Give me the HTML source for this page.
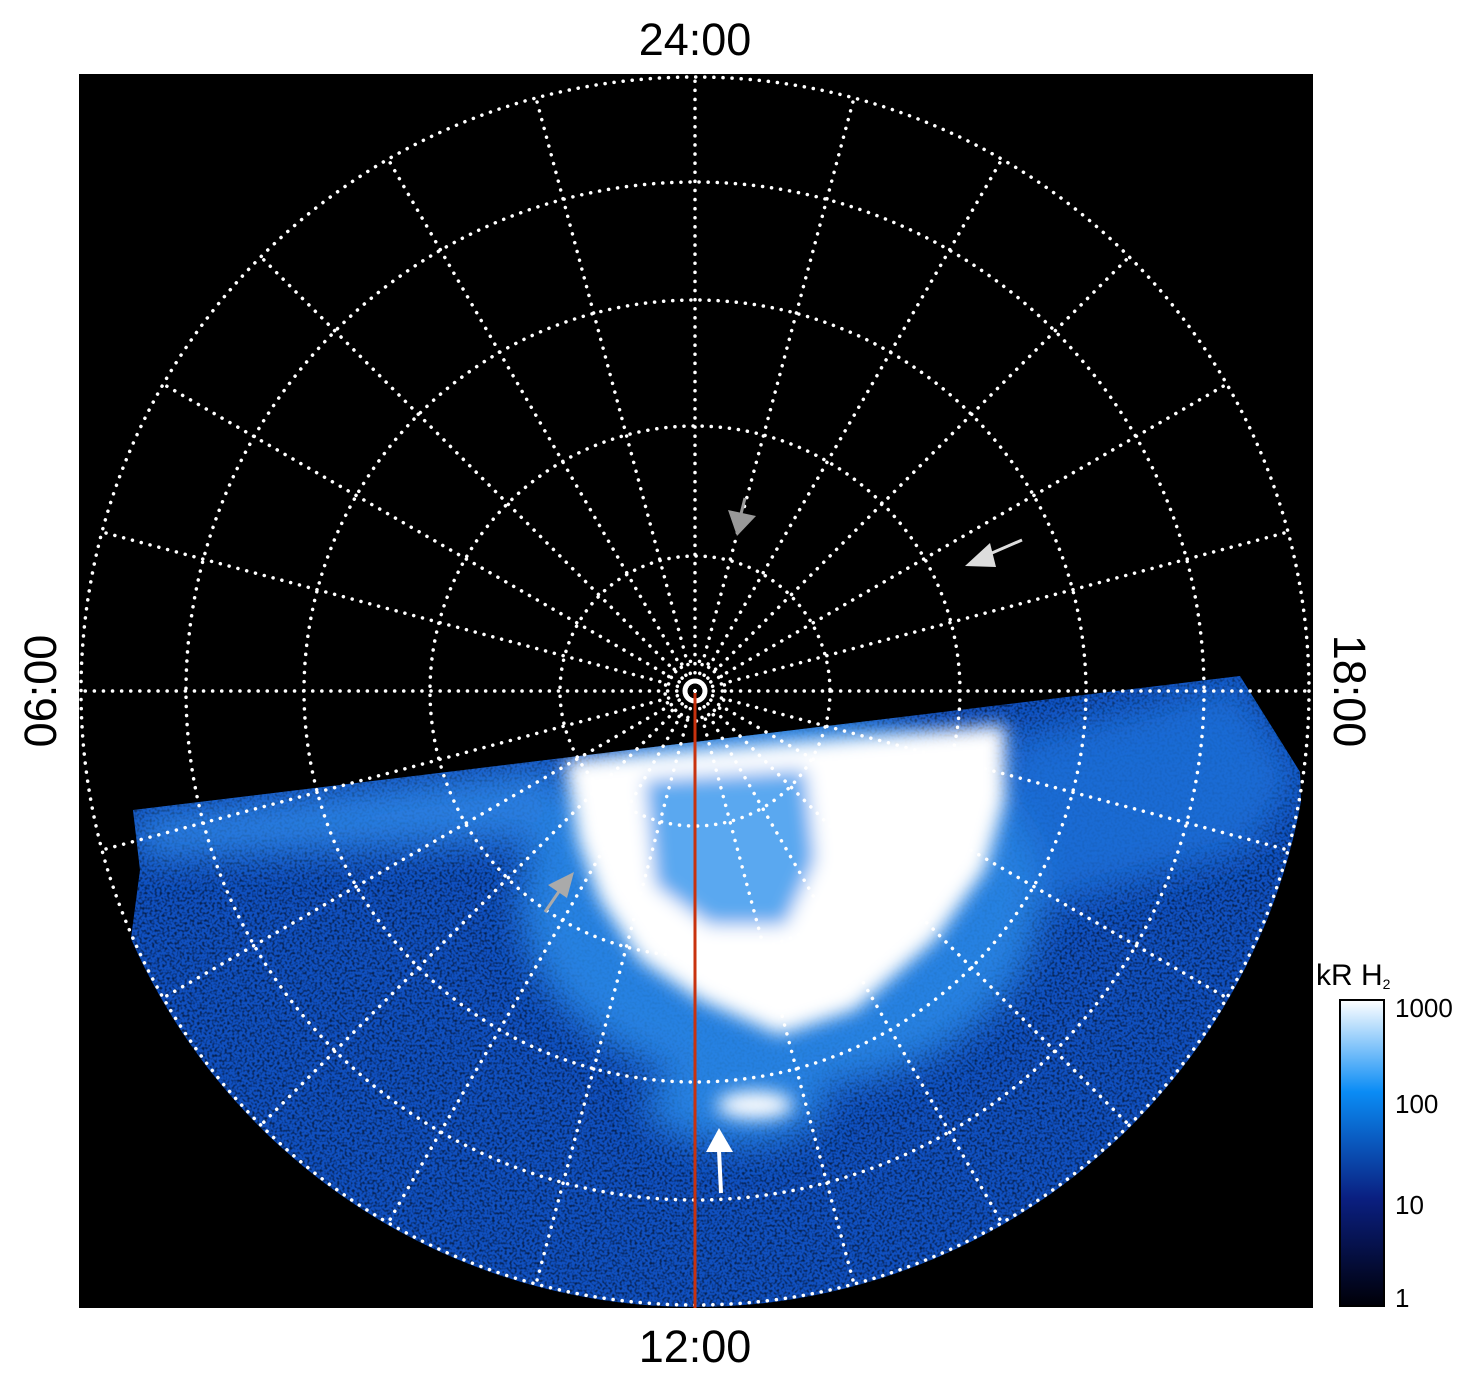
<!DOCTYPE html>
<html><head><meta charset="utf-8"><style>
html,body{margin:0;padding:0;background:#fff;}
svg{display:block;}
text{font-family:"Liberation Sans",sans-serif;}
</style></head><body>
<svg width="1480" height="1384" viewBox="0 0 1480 1384" xmlns="http://www.w3.org/2000/svg">
<defs>
<clipPath id="cp">
<circle cx="695" cy="691" r="616"/>
</clipPath>
<clipPath id="reg">
<polygon points="133,810 1240,676 1300,772 1320,1400 70,1400 140,870"/>
</clipPath>
<filter id="bl" x="-20%" y="-20%" width="140%" height="140%"><feGaussianBlur stdDeviation="18"/></filter>
<filter id="bl2" x="-20%" y="-20%" width="140%" height="140%"><feGaussianBlur stdDeviation="9"/></filter>
<filter id="nz" x="0" y="0" width="100%" height="100%">
<feTurbulence type="fractalNoise" baseFrequency="0.4" numOctaves="1" seed="3"/>
<feColorMatrix values="0 0 0 0 0  0 0 0 0 0  0 0 0 0 0  0 0 0 -3 1.7"/>
</filter>
<linearGradient id="cb" x1="0" y1="0" x2="0" y2="1">
<stop offset="0" stop-color="#ffffff"/>
<stop offset="0.3" stop-color="#0a8cf5"/>
<stop offset="0.65" stop-color="#0a1f80"/>
<stop offset="1" stop-color="#000008"/>
</linearGradient>
</defs>
<rect x="79" y="74" width="1234" height="1234" fill="#000"/>
<g clip-path="url(#cp)">
<g clip-path="url(#reg)">
<rect x="70" y="660" width="1260" height="740" fill="#1050c0"/>
<rect x="70" y="660" width="1260" height="740" filter="url(#nz)" opacity="0.6"/>
<g filter="url(#bl)" opacity="0.85">
<polygon points="133,815 560,765 560,840 140,860" fill="#2f86e6"/>
<polygon points="1000,740 1240,680 1300,780 1250,850 1000,920" fill="#1f70d8"/>
<ellipse cx="780" cy="900" rx="260" ry="190" fill="#2a8ae8"/>
<ellipse cx="735" cy="1105" rx="90" ry="40" fill="#2a8ae8"/>
</g>
<g filter="url(#bl2)">
<path d="M565,760 L1005,725 L1005,800 L985,870 L935,940 L855,1010 L780,1035 L700,1000 L640,960 L600,900 L578,840 Z" fill="#fff"/>
<path d="M645,780 L805,770 L815,860 L785,925 L710,925 L655,885 Z" fill="#5aa8f0"/>
<ellipse cx="755" cy="1105" rx="38" ry="14" fill="#fff"/>
</g>
</g>
</g>
<g stroke="#fff" stroke-width="3.5" fill="none" stroke-dasharray="0.1 9" stroke-linecap="round">
<circle cx="695" cy="691" r="614"/>
<circle cx="695" cy="691" r="509"/>
<circle cx="695" cy="691" r="391"/>
<circle cx="695" cy="691" r="265"/>
<circle cx="695" cy="691" r="135"/>
<circle cx="695" cy="691" r="30"/>
<line x1="695" y1="691" x2="695" y2="77"/>
<line x1="695" y1="691" x2="536" y2="98"/>
<line x1="695" y1="691" x2="388" y2="159"/>
<line x1="695" y1="691" x2="261" y2="257"/>
<line x1="695" y1="691" x2="163" y2="384"/>
<line x1="695" y1="691" x2="102" y2="532"/>
<line x1="695" y1="691" x2="81" y2="691"/>
<line x1="695" y1="691" x2="102" y2="850"/>
<line x1="695" y1="691" x2="163" y2="998"/>
<line x1="695" y1="691" x2="261" y2="1125"/>
<line x1="695" y1="691" x2="388" y2="1223"/>
<line x1="695" y1="691" x2="536" y2="1284"/>
<line x1="695" y1="691" x2="854" y2="98"/>
<line x1="695" y1="691" x2="1002" y2="159"/>
<line x1="695" y1="691" x2="1129" y2="257"/>
<line x1="695" y1="691" x2="1227" y2="384"/>
<line x1="695" y1="691" x2="1288" y2="532"/>
<line x1="695" y1="691" x2="1309" y2="691"/>
<line x1="695" y1="691" x2="1288" y2="850"/>
<line x1="695" y1="691" x2="1227" y2="998"/>
<line x1="695" y1="691" x2="1129" y2="1125"/>
<line x1="695" y1="691" x2="1002" y2="1223"/>
<line x1="695" y1="691" x2="854" y2="1284"/>
</g>
<circle cx="695" cy="691" r="11" fill="none" stroke="#fff" stroke-width="3"/>
<line x1="695" y1="693" x2="695" y2="1308" stroke="#c8320e" stroke-width="3"/>
<line x1="745" y1="498" x2="740" y2="518" stroke="#999" stroke-width="3"/>
<polygon points="728,510 756,516 737,536" fill="#999"/>
<line x1="1022" y1="540" x2="985" y2="556" stroke="#ddd" stroke-width="3"/>
<polygon points="965,566 990,543 996,567" fill="#ddd"/>
<line x1="545" y1="912" x2="560" y2="890" stroke="#aaa" stroke-width="3"/>
<polygon points="574,872 548,885 567,898" fill="#aaa"/>
<line x1="721" y1="1193" x2="719" y2="1150" stroke="#fff" stroke-width="4"/>
<polygon points="719,1128 706,1152 733,1152" fill="#fff"/>
<g font-size="45" fill="#000" text-anchor="middle">
<text x="695" y="55">24:00</text>
<text x="695" y="1362">12:00</text>
<text transform="translate(56,691) rotate(-90)">06:00</text>
<text transform="translate(1334,691) rotate(90)">18:00</text>
</g>
<rect x="1340" y="1000" width="44" height="306" fill="url(#cb)" stroke="#000" stroke-width="2"/>
<text x="1316" y="985" font-size="30">kR H<tspan font-size="14" dy="4">2</tspan></text>
<g font-size="26" fill="#000">
<text x="1395" y="1017">1000</text>
<text x="1395" y="1113">100</text>
<text x="1395" y="1214">10</text>
<text x="1395" y="1307">1</text>
</g>
</svg>
</body></html>
